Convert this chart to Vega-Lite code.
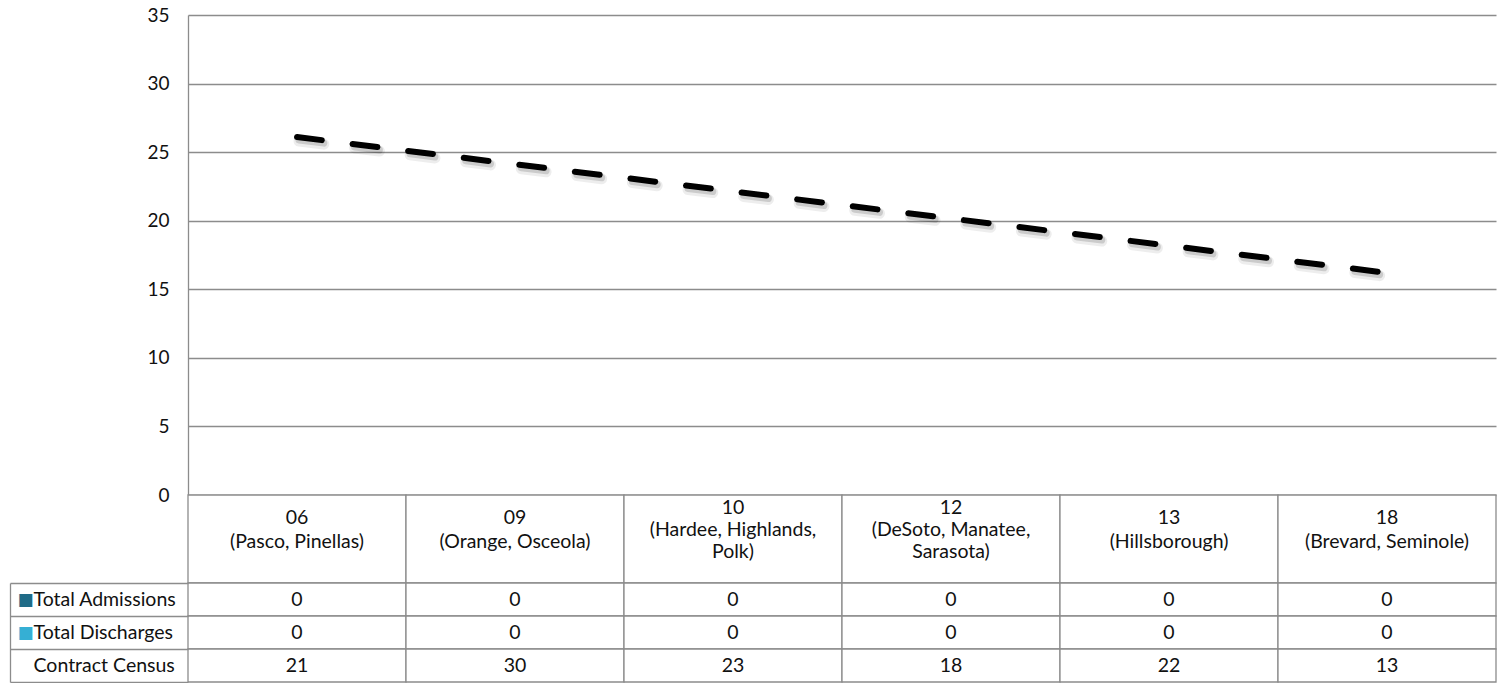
{
  "$schema": "https://vega.github.io/schema/vega-lite/v6.json",
  "padding": {"left": 9, "top": 6, "right": 0, "bottom": 0},
  "bounds": "flush",
  "spacing": 0,
  "config": {
    "view": {"stroke": null},
    "font": "Lato",
    "axis": {"labelFont": "Lato"},
    "text": {"font": "Lato"}
  },
  "datasets": {
    "d": [
      {"district": "06\n(Pasco, Pinellas)", "Total Admissions": 0, "Total Discharges": 0, "Contract Census": 21, "trend": 26.1},
      {"district": "09\n(Orange, Osceola)", "Total Admissions": 0, "Total Discharges": 0, "Contract Census": 30, "trend": null},
      {"district": "10\n(Hardee, Highlands,\nPolk)", "Total Admissions": 0, "Total Discharges": 0, "Contract Census": 23, "trend": null},
      {"district": "12\n(DeSoto, Manatee,\nSarasota)", "Total Admissions": 0, "Total Discharges": 0, "Contract Census": 18, "trend": null},
      {"district": "13\n(Hillsborough)", "Total Admissions": 0, "Total Discharges": 0, "Contract Census": 22, "trend": null},
      {"district": "18\n(Brevard, Seminole)", "Total Admissions": 0, "Total Discharges": 0, "Contract Census": 13, "trend": 16.2}
    ]
  },
  "vconcat": [
    {
      "width": 1308,
      "height": 480,
      "data": {"name": "d"},
      "encoding": {
        "x": {
          "field": "district", "type": "nominal", "sort": null,
          "scale": {"type": "point", "padding": 0.5, "domain": ["06\n(Pasco, Pinellas)", "09\n(Orange, Osceola)", "10\n(Hardee, Highlands,\nPolk)", "12\n(DeSoto, Manatee,\nSarasota)", "13\n(Hillsborough)", "18\n(Brevard, Seminole)"]},
          "axis": null
        },
        "y": {
          "field": "trend", "type": "quantitative",
          "scale": {"domain": [0, 35], "nice": false},
          "axis": {
            "values": [0, 5, 10, 15, 20, 25, 30, 35],
            "title": null, "ticks": false, "grid": true,
            "gridColor": "#8c8c8c", "gridWidth": 1.3,
            "domainColor": "#8c8c8c", "domainWidth": 1.3,
            "labelFontSize": 19, "labelColor": "#111111", "labelPadding": 19
          }
        }
      },
      "layer": [
        {"mark": {"type": "line", "invalid": "filter", "stroke": "#000", "opacity": 0.07, "strokeWidth": 11, "strokeDash": [25, 31], "strokeCap": "round", "xOffset": 2, "yOffset": 4}},
        {"mark": {"type": "line", "invalid": "filter", "stroke": "#000", "opacity": 0.14, "strokeWidth": 7, "strokeDash": [25, 31], "strokeCap": "round", "xOffset": 2, "yOffset": 3}},
        {"mark": {"type": "line", "invalid": "filter", "stroke": "#000", "strokeWidth": 6, "strokeDash": [25, 31], "strokeCap": "round"}}
      ]
    },
    {
      "width": 1308,
      "height": 88,
      "data": {"name": "d"},
      "encoding": {
        "x": {
          "field": "district", "type": "nominal", "sort": null,
          "scale": {"type": "band", "paddingInner": 0, "paddingOuter": 0, "domain": ["06\n(Pasco, Pinellas)", "09\n(Orange, Osceola)", "10\n(Hardee, Highlands,\nPolk)", "12\n(DeSoto, Manatee,\nSarasota)", "13\n(Hillsborough)", "18\n(Brevard, Seminole)"]},
          "axis": null
        }
      },
      "layer": [
        {"mark": {"type": "rect", "fill": "#ffffff", "stroke": "#8c8c8c", "strokeWidth": 1.3}},
        {
          "transform": [{"filter": "split(datum.district, '\\n').length == 2"}],
          "mark": {"type": "text", "fontSize": 19.5, "lineBreak": "\n", "lineHeight": 24, "color": "#111111", "dy": -21},
          "encoding": {"text": {"field": "district"}}
        },
        {
          "transform": [{"filter": "split(datum.district, '\\n').length == 3"}],
          "mark": {"type": "text", "fontSize": 19.5, "lineBreak": "\n", "lineHeight": 22, "color": "#111111", "dy": -31},
          "encoding": {"text": {"field": "district"}}
        }
      ]
    },
    {
      "width": 1308,
      "height": 99,
      "data": {"name": "d"},
      "transform": [{"fold": ["Total Admissions", "Total Discharges", "Contract Census"], "as": ["row", "val"]}],
      "encoding": {
        "x": {
          "field": "district", "type": "nominal", "sort": null,
          "scale": {"type": "band", "paddingInner": 0, "paddingOuter": 0, "domain": ["06\n(Pasco, Pinellas)", "09\n(Orange, Osceola)", "10\n(Hardee, Highlands,\nPolk)", "12\n(DeSoto, Manatee,\nSarasota)", "13\n(Hillsborough)", "18\n(Brevard, Seminole)"]},
          "axis": null
        }
      },
      "layer": [
        {
          "mark": {"type": "rect", "fill": "#ffffff", "stroke": "#8c8c8c", "strokeWidth": 1.3},
          "encoding": {
            "y": {
              "field": "row", "type": "nominal",
              "scale": {"type": "band", "domain": ["Total Admissions", "Total Discharges", "Contract Census"], "paddingInner": 0, "paddingOuter": 0},
              "axis": {
                "orient": "left", "title": null, "domain": false, "tickSize": 178, "tickBand": "extent",
                "tickColor": "#8c8c8c", "tickWidth": 1.3,
                "labelAlign": "left", "labelPadding": -23, "labelFontSize": 19.5, "labelColor": "#111111"
              }
            }
          }
        },
        {
          "mark": {"type": "text", "fontSize": 19.5, "color": "#111111"},
          "encoding": {
            "y": {"field": "row", "type": "nominal", "axis": null},
            "text": {"field": "val"}
          }
        },
        {
          "mark": {"type": "rect", "opacity": 0},
          "encoding": {
            "y": {
              "field": "row", "type": "nominal",
              "axis": {
                "orient": "left", "title": null, "offset": 178, "domain": true, "domainColor": "#8c8c8c", "domainWidth": 1.3,
                "ticks": false, "labelAlign": "left", "labelPadding": -7,
                "labelExpr": "datum.value == 'Contract Census' ? '' : '■'",
                "labelColor": {"expr": "datum.value == 'Total Admissions' ? '#1f6b87' : '#35afd4'"},
                "labelFont": "DejaVu Sans", "labelFontSize": 17
              }
            }
          }
        }
      ],
      "resolve": {"axis": {"y": "independent"}}
    }
  ]
}
